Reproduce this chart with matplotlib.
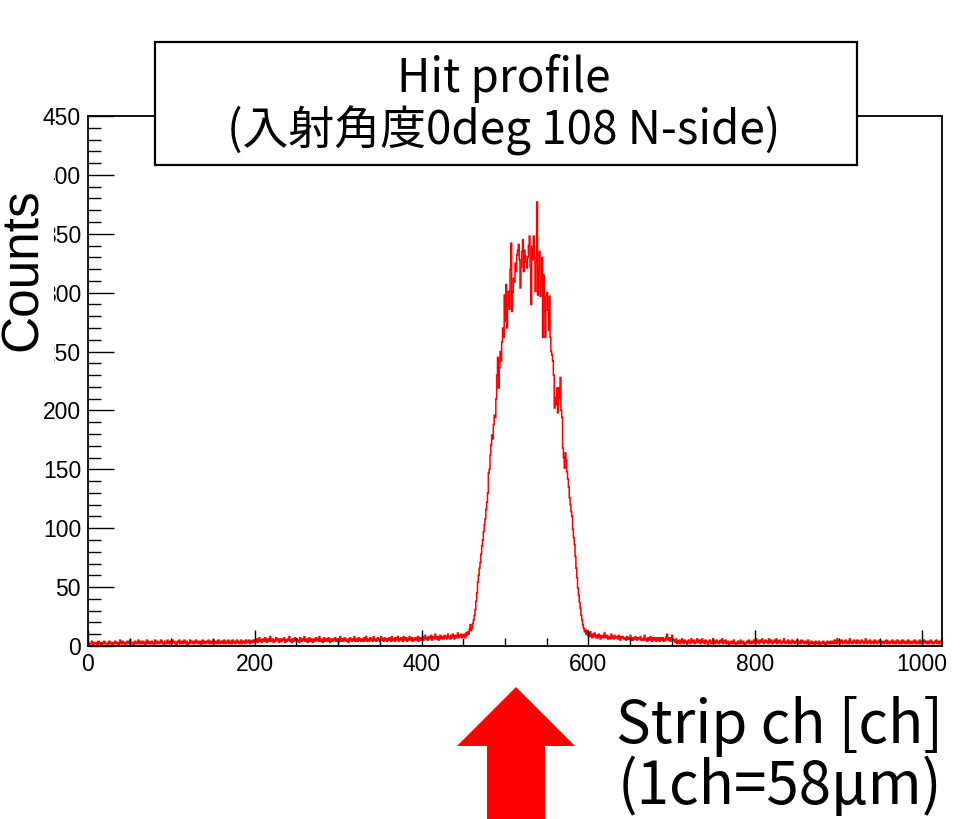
import numpy as np
import matplotlib
matplotlib.use("Agg")
import matplotlib.pyplot as plt
from matplotlib.patches import Rectangle, Polygon
from matplotlib.ticker import MultipleLocator

# ---------------- data (counts per strip channel) ----------------
bg_left_a = [  # ch 0-199
    3,1,2,2,4,2,1,3,2,2,3,1,4,2,3,2,1,3,2,4,3,2,2,1,3,4,2,3,2,1,3,2,
    4,3,2,3,1,2,5,3,2,4,2,3,1,3,2,4,3,2,5,2,3,3,1,2,4,3,2,3,5,2,3,4,
    2,3,4,2,1,3,5,2,4,3,2,3,4,2,3,1,5,3,2,4,3,2,3,5,4,2,3,1,4,3,2,5,
    3,2,4,3,2,5,3,4,2,3,1,4,3,5,2,3,4,2,3,5,3,2,4,1,3,2,5,3,4,2,3,4,
    2,5,3,4,2,3,4,1,3,5,2,4,3,2,4,3,5,2,3,4,2,3,5,4,2,3,4,2,5,3,2,4,
    3,4,2,5,3,2,4,3,5,2,3,4,2,5,3,4,2,3,5,3,4,2,3,5,2,4,3,4,2,5,3,4,
    3,5,2,4,3,4,5,3]
bg_left_b = [  # ch 200-399
    5,4,6,3,5,7,4,5,3,6,5,4,7,5,3,6,4,5,8,4,5,6,3,5,4,7,5,6,4,3,6,5,
    4,6,5,7,3,5,4,6,5,8,4,5,3,6,5,4,7,5,6,4,5,3,7,5,4,6,5,8,4,5,6,3,
    5,7,4,6,5,3,6,5,4,7,5,6,4,8,5,4,6,3,5,7,4,5,6,4,7,5,3,6,5,4,6,5,
    7,4,5,6,3,5,8,4,6,5,4,7,5,6,4,5,3,6,7,5,4,6,5,8,4,5,6,4,7,5,6,4,
    5,6,4,7,5,8,4,6,5,4,7,6,5,4,8,5,6,4,5,7,6,4,5,8,6,5,4,7,5,6,4,6,
    5,7,6,4,8,5,6,4,7,5,6,8,4,6,5,7,6,4,8,5,6,7,4,6,5,8,6,5,7,4,6,5,
    7,6,5,8,4,6,7,5]
bg_left_c = [  # ch 400-449
    6,8,5,7,9,6,7,5,8,6,7,9,5,8,7,6,10,7,6,8,5,7,9,6,8,7,6,9,7,8,6,10,
    7,8,6,9,7,10,8,6,9,7,8,11,7,9,8,10,7,9]
peak = [  # ch 450-609
    8,10,7,11,9,12,10,14,18,13,
    15,19,22,26,31,38,45,54,60,66,
    71,78,85,90,97,103,108,116,122,130,
    147,150,162,171,179,176,188,196,194,210,
    230,245,219,236,250,242,258,270,262,298,
    276,307,270,290,301,286,320,342,284,300,
    312,309,325,318,332,336,341,328,304,322,
    335,345,318,336,331,326,321,330,340,348,
    322,290,339,328,348,330,301,326,377,298,
    320,335,297,310,330,262,315,284,262,297,
    300,285,268,297,262,250,247,242,230,202,
    211,205,219,198,219,210,228,200,194,168,
    160,151,164,158,148,142,135,126,120,114,
    110,99,92,86,76,66,58,49,43,37,
    32,26,22,18,15,12,14,10,13,9,
    11,8,12,9,7,10,8,11,9,7]
bg_right_a = [  # ch 610-699
    9,7,10,8,6,9,8,7,9,11,7,8,9,6,8,7,6,10,7,8,6,9,7,7,8,6,9,7,5,8,7,8,
    6,7,6,5,8,6,7,6,9,5,7,5,7,6,8,6,5,7,6,6,8,5,6,5,7,9,5,6,4,7,5,6,
    8,5,4,7,6,5,7,4,6,7,5,4,7,6,5,7,4,6,5,8,10,6,5,7,4,6]
bg_right_b = [  # ch 700-1023
    9,6,5,4,3,6,2,4,3,5,2,4,6,3,2,5,4,3,1,4,5,3,2,6,4,3,5,2,4,3,6,4,
    3,5,2,4,6,3,4,2,5,3,4,1,3,5,4,2,3,6,4,3,2,5,4,3,2,4,5,3,6,2,4,3,
    5,2,3,4,1,3,2,4,3,2,5,3,2,1,3,4,2,3,5,2,3,4,2,1,3,2,4,3,5,2,3,4,
    2,3,5,4,2,6,3,4,2,5,3,4,6,3,2,4,5,3,4,2,6,3,5,4,2,3,5,4,3,6,2,4,
    3,5,4,2,3,4,6,3,2,4,3,5,2,4,3,2,5,4,3,2,4,3,5,2,3,4,2,5,3,4,2,3,
    4,2,3,5,1,3,2,4,3,2,3,1,4,2,3,2,4,1,3,2,3,4,2,3,1,2,4,3,2,3,4,2,
    3,4,2,5,3,2,6,3,4,2,3,5,4,2,3,4,5,2,3,4,2,6,3,4,2,3,5,3,4,2,5,3,
    4,2,3,5,3,4,2,3,6,4,2,3,4,5,2,3,4,3,2,5,3,4,2,3,4,5,3,2,4,3,2,4,
    3,5,2,4,3,2,4,3,5,2,3,4,2,3,5,4,2,3,4,2,5,3,4,2,3,4,2,5,3,2,4,3,
    2,4,3,5,2,3,4,2,3,5,2,4,3,2,5,3,4,2,3,4,2,3,5,4,2,3,2,4,3,5,2,3,
    4,2,3,5]

counts = np.array(bg_left_a + bg_left_b + bg_left_c + peak + bg_right_a + bg_right_b, dtype=float)
edges = np.arange(len(counts) + 1)

x_ticks = [0, 200, 400, 600, 800, 1000]
y_ticks = [0, 50, 100, 150, 200, 250, 300, 350, 400, 450]

title_text = "Hit profile\n(入射角度0deg 108 N-side)"
xlabel_text = "Strip ch [ch]\n(1ch=58\u03bcm)"
ylabel_text = "Counts"

# ---------------- figure ----------------
plt.rcParams["font.family"] = ["Liberation Sans", "DejaVu Sans"]

W, H = 973, 819
fig = plt.figure(figsize=(W / 100, H / 100), dpi=100)
fig.patch.set_facecolor("white")

def fx(px):
    return px / W

def fy(py):
    return 1 - py / H

ax = fig.add_axes([fx(88), fy(646), fx(942) - fx(88), fy(116) - fy(646)])
ax.stairs(counts, edges, color="#ff0000", linewidth=1.1)
ax.set_xlim(0, 1024)
ax.set_ylim(0, 450)
ax.set_xticks(x_ticks)
ax.set_yticks(y_ticks)
ax.xaxis.set_minor_locator(MultipleLocator(50))
ax.yaxis.set_minor_locator(MultipleLocator(10))
ax.tick_params(axis="both", which="both", direction="in", color="black", width=1.0,
               top=False, right=False, labelsize=16.5)
ax.tick_params(axis="y", which="major", length=19, pad=5)
ax.tick_params(axis="y", which="minor", length=9.5)
ax.tick_params(axis="x", which="major", length=11.5, pad=5)
ax.tick_params(axis="x", which="minor", length=6)
for sp in ax.spines.values():
    sp.set_linewidth(1.3)
    sp.set_color("black")

# title box
fig.add_artist(Rectangle((fx(155), fy(165)), fx(857) - fx(155), fy(42) - fy(165),
                         transform=fig.transFigure, facecolor="white",
                         edgecolor="black", linewidth=1.6, zorder=5))
fig.text(fx(504), fy(105), title_text, ha="center", va="center",
         fontsize=33, family=["Noto Sans CJK JP", "DejaVu Sans"],
         linespacing=1.05, zorder=6)

# y label with white background covering part of tick labels
fig.add_artist(Rectangle((0, fy(372)), fx(54), fy(165) - fy(372),
                         transform=fig.transFigure, facecolor="white",
                         edgecolor="none", zorder=5))
fig.text(fx(23), fy(270), ylabel_text, rotation=90, ha="center", va="center",
         fontsize=37, family=["Liberation Sans"], zorder=6)

# red arrow
arrow_px = [(487, 819), (487, 746), (457, 746), (516, 687), (575, 746), (545, 746), (545, 819)]
fig.add_artist(Polygon([(fx(a), fy(b)) for a, b in arrow_px], closed=True,
                       transform=fig.transFigure, facecolor="#ff0000",
                       edgecolor="none", zorder=5))

# x label
fig.text(fx(780), fy(757), xlabel_text, ha="center", va="center",
         fontsize=42, family=["Noto Sans CJK JP", "DejaVu Sans"],
         linespacing=1.02, zorder=6)

fig.savefig("out.png", dpi=100, facecolor="white")
